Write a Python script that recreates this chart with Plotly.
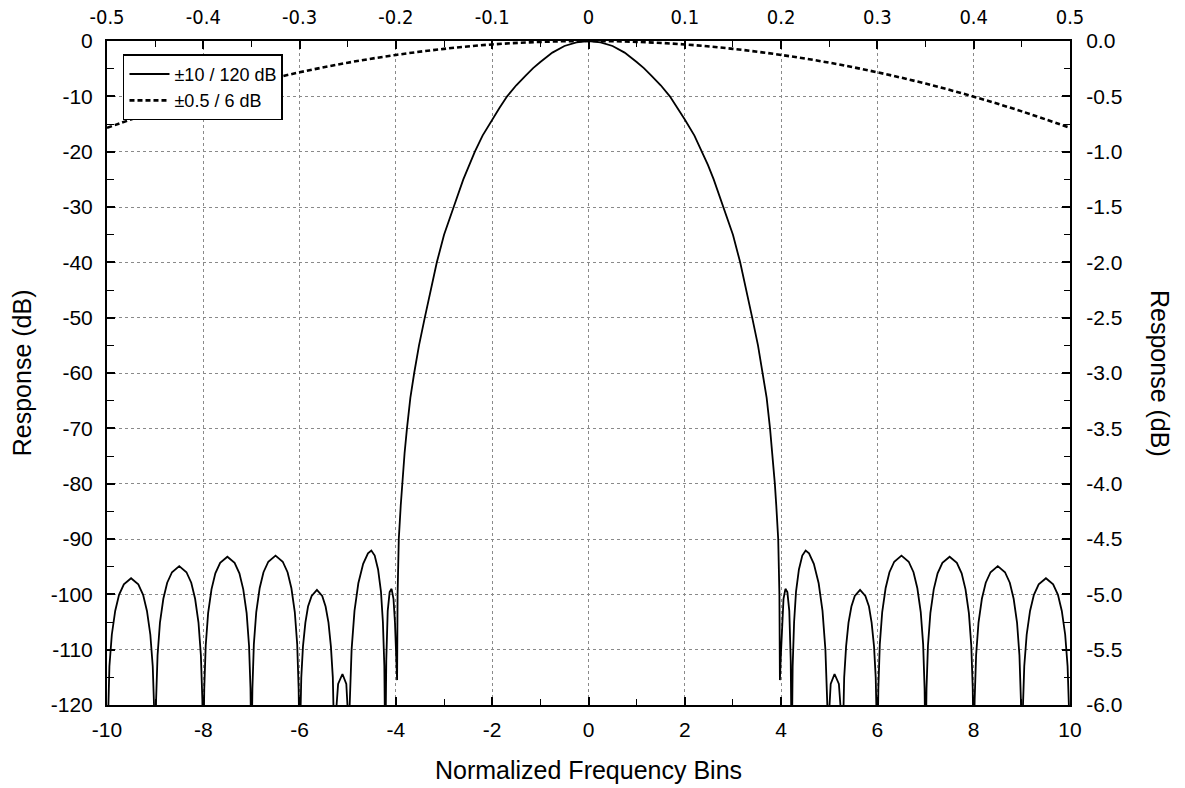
import plotly.graph_objects as go

# ---- solid curve: +/-10 bins, 120 dB span (bottom x axis, left y axis) ----
bins = [
    -10.00, -9.98, -9.95, -9.90, -9.83, -9.75, -9.65, -9.50, -9.35, -9.25, -9.17, -9.10, -9.05, -9.02,
    -9.00, -8.98, -8.95, -8.90, -8.83, -8.75, -8.65, -8.50, -8.35, -8.25, -8.17, -8.10, -8.05, -8.02,
    -8.00, -7.98, -7.95, -7.90, -7.83, -7.75, -7.65, -7.50, -7.35, -7.25, -7.17, -7.10, -7.05, -7.02,
    -7.00, -6.98, -6.95, -6.90, -6.83, -6.75, -6.65, -6.50, -6.35, -6.25, -6.17, -6.10, -6.05, -6.02,
    -6.00, -5.985, -5.965, -5.93, -5.88, -5.825, -5.75, -5.64, -5.53, -5.46, -5.40, -5.35, -5.31, -5.29,
    -5.26, -5.24, -5.20, -5.11, -5.03, -5.00,
    -4.98, -4.96, -4.92, -4.86, -4.78, -4.68, -4.58, -4.51, -4.44, -4.37, -4.31, -4.27, -4.24,
    -4.22, -4.20, -4.17, -4.13, -4.09, -4.05, -4.02, -3.99, -3.975,
    -3.965, -3.94, -3.90, -3.87, -3.82, -3.77, -3.70, -3.62, -3.52, -3.40, -3.28, -3.15, -3.00,
    -2.90, -2.80, -2.60, -2.48, -2.36, -2.20, -2.00, -1.85, -1.69, -1.50, -1.30, -1.15, -1.00,
    -0.75, -0.50, -0.25, 0.00,
    0.25, 0.50, 0.75,
    1.00, 1.15, 1.30, 1.50, 1.69, 1.85, 2.00, 2.20, 2.36, 2.48, 2.60, 2.80, 2.90,
    3.00, 3.15, 3.28, 3.40, 3.52, 3.62, 3.70, 3.77, 3.82, 3.87, 3.90, 3.94, 3.965,
    3.975, 3.99, 4.02, 4.05, 4.09, 4.13, 4.17, 4.20, 4.22,
    4.24, 4.27, 4.31, 4.37, 4.44, 4.51, 4.58, 4.68, 4.78, 4.86, 4.92, 4.96, 4.98,
    5.00, 5.03, 5.11, 5.20, 5.24, 5.26,
    5.29, 5.31, 5.35, 5.40, 5.46, 5.53, 5.64, 5.75, 5.825, 5.88, 5.93, 5.965, 5.985, 6.00,
    6.02, 6.05, 6.10, 6.17, 6.25, 6.35, 6.50, 6.65, 6.75, 6.83, 6.90, 6.95, 6.98, 7.00,
    7.02, 7.05, 7.10, 7.17, 7.25, 7.35, 7.50, 7.65, 7.75, 7.83, 7.90, 7.95, 7.98, 8.00,
    8.02, 8.05, 8.10, 8.17, 8.25, 8.35, 8.50, 8.65, 8.75, 8.83, 8.90, 8.95, 8.98, 9.00,
    9.02, 9.05, 9.10, 9.17, 9.25, 9.35, 9.50, 9.65, 9.75, 9.83, 9.90, 9.95, 9.98, 10.00,
]
resp_db = [
    -130, -121, -113, -107.3, -103, -100.1, -98.2, -97.1, -98.2, -100.1, -103, -107.3, -113, -121,
    -130, -119, -111, -105.1, -100.8, -97.9, -96.0, -94.9, -96.0, -97.9, -100.8, -105.1, -111, -119,
    -130, -117, -109.3, -103.4, -99.1, -96.2, -94.3, -93.2, -94.3, -96.2, -99.1, -103.4, -109.3, -117,
    -130, -117, -109, -103.2, -98.9, -96.0, -94.1, -93.0, -94.1, -96.0, -98.9, -103.2, -109, -117,
    -130, -123, -115, -109.4, -105.1, -102.2, -100.3, -99.2, -100.3, -102.2, -105.1, -109.4, -115, -123,
    -130, -121, -116.2, -114.4, -116.2, -121,
    -130, -120, -110, -103, -98, -94.5, -92.6, -92.1, -93, -95.5, -99.5, -105, -113,
    -130, -112, -103, -99.6, -99, -100.8, -105, -112, -115.5,
    -100, -90, -84, -80, -74.5, -70, -64.5, -60, -55, -50, -45, -40, -35,
    -32.3, -30, -25, -22.4, -20, -17.1, -14.2, -12.1, -10, -8.0, -6.2, -4.9, -3.8,
    -2.1, -0.9, -0.23, 0.0,
    -0.23, -0.9, -2.1,
    -3.8, -4.9, -6.2, -8.0, -10, -12.1, -14.2, -17.1, -20, -22.4, -25, -30, -32.3,
    -35, -40, -45, -50, -55, -60, -64.5, -70, -74.5, -80, -84, -90, -100,
    -115.5, -112, -105, -100.8, -99, -99.6, -103, -112, -130,
    -113, -105, -99.5, -95.5, -93, -92.1, -92.6, -94.5, -98, -103, -110, -120, -130,
    -121, -116.2, -114.4, -116.2, -121, -130,
    -123, -115, -109.4, -105.1, -102.2, -100.3, -99.2, -100.3, -102.2, -105.1, -109.4, -115, -123, -130,
    -117, -109, -103.2, -98.9, -96.0, -94.1, -93.0, -94.1, -96.0, -98.9, -103.2, -109, -117, -130,
    -117, -109.3, -103.4, -99.1, -96.2, -94.3, -93.2, -94.3, -96.2, -99.1, -103.4, -109.3, -117, -130,
    -119, -111, -105.1, -100.8, -97.9, -96.0, -94.9, -96.0, -97.9, -100.8, -105.1, -111, -119, -130,
    -121, -113, -107.3, -103, -100.1, -98.2, -97.1, -98.2, -100.1, -103, -107.3, -113, -121, -130,
]

# ---- dashed curve: +/-0.5 bins, 6 dB span (top x axis, right y axis) ----
zoom_bins = [-0.50, -0.45, -0.40, -0.35, -0.30, -0.25, -0.20, -0.15, -0.10, -0.05, 0.00,
             0.05, 0.10, 0.15, 0.20, 0.25, 0.30, 0.35, 0.40, 0.45, 0.50]
zoom_db = [-0.785, -0.636, -0.503, -0.385, -0.283, -0.196, -0.126, -0.071, -0.031, -0.008, 0.0,
           -0.008, -0.031, -0.071, -0.126, -0.196, -0.283, -0.385, -0.503, -0.636, -0.785]

series_names = ["±10 / 120 dB", "±0.5 / 6 dB"]

# ---- tick labels ----
bottom_ticks = [-10, -8, -6, -4, -2, 0, 2, 4, 6, 8, 10]
bottom_labels = ["-10", "-8", "-6", "-4", "-2", "0", "2", "4", "6", "8", "10"]
top_ticks = [-0.5, -0.4, -0.3, -0.2, -0.1, 0, 0.1, 0.2, 0.3, 0.4, 0.5]
top_labels = ["-0.5", "-0.4", "-0.3", "-0.2", "-0.1", "0", "0.1", "0.2", "0.3", "0.4", "0.5"]
left_ticks = [0, -10, -20, -30, -40, -50, -60, -70, -80, -90, -100, -110, -120]
left_labels = ["0", "-10", "-20", "-30", "-40", "-50", "-60", "-70", "-80", "-90", "-100", "-110", "-120"]
right_ticks = [0, -0.5, -1, -1.5, -2, -2.5, -3, -3.5, -4, -4.5, -5, -5.5, -6]
right_labels = ["0.0", "-0.5", "-1.0", "-1.5", "-2.0", "-2.5", "-3.0", "-3.5", "-4.0",
                "-4.5", "-5.0", "-5.5", "-6.0"]

FONT = "Liberation Sans, Arial, Helvetica, sans-serif"
NARROW = "Liberation Sans Narrow, Arial Narrow, DejaVu Sans Condensed, sans-serif"
GRID = "#8a8a8a"

fig = go.Figure()
fig.add_trace(go.Scatter(x=bins, y=resp_db, mode="lines", name=series_names[0],
                         line=dict(color="black", width=1.8), xaxis="x", yaxis="y"))
fig.add_trace(go.Scatter(x=zoom_bins, y=zoom_db, mode="lines", name=series_names[1],
                         line=dict(color="black", width=2.6, dash="5px,3px", shape="spline"),
                         xaxis="x2", yaxis="y2"))

common = dict(showline=True, linecolor="black", linewidth=2, ticks="inside",
              tickcolor="black", tickwidth=1.5, ticklen=8, zeroline=False, automargin=False)

fig.update_layout(
    template="none",
    width=1185, height=788,
    margin=dict(l=107, r=115, t=41, b=83, autoexpand=False),
    paper_bgcolor="white", plot_bgcolor="white",
    font=dict(family=FONT, size=21, color="black"),
    showlegend=True,
    legend=dict(x=0.0166, y=0.98, xanchor="left", yanchor="top", bgcolor="white",
                bordercolor="black", borderwidth=1.5, font=dict(family=FONT, size=18),
                itemwidth=40, tracegroupgap=0),
    xaxis=dict(range=[-10, 10], tickmode="array", tickvals=bottom_ticks, ticktext=bottom_labels,
               showgrid=True, gridcolor=GRID, griddash="dot", gridwidth=1,
               minor=dict(tickmode="linear", tick0=0, dtick=1, ticks="inside", ticklen=6,
                          tickcolor="black", tickwidth=1.2, showgrid=False),
               ticklabelstandoff=5, **common),
    yaxis=dict(range=[-120, 0], tickmode="array", tickvals=left_ticks, ticktext=left_labels,
               showgrid=True, gridcolor=GRID, griddash="dot", gridwidth=1,
               minor=dict(tickmode="linear", tick0=0, dtick=5, ticks="inside", ticklen=7,
                          tickcolor="black", tickwidth=1.2, showgrid=False),
               ticklabelstandoff=8, **common),
    xaxis2=dict(range=[-0.5, 0.5], overlaying="x", side="top", anchor="y",
                tickmode="array", tickvals=top_ticks, ticktext=top_labels,
                tickfont=dict(family=NARROW, size=20),
                showgrid=False,
                minor=dict(tickmode="linear", tick0=0, dtick=0.05, ticks="inside", ticklen=6,
                           tickcolor="black", tickwidth=1.2, showgrid=False),
                ticklabelstandoff=7, **common),
    yaxis2=dict(range=[-6, 0], overlaying="y", side="right", anchor="x",
                tickmode="array", tickvals=right_ticks, ticktext=right_labels,
                showgrid=False,
                minor=dict(tickmode="linear", tick0=0, dtick=0.25, ticks="inside", ticklen=6,
                           tickcolor="black", tickwidth=1.2, showgrid=False),
                ticklabelstandoff=10, **common),
    annotations=[
        dict(text="Normalized Frequency Bins", xref="paper", yref="paper", x=0.5, y=-0.098,
             xanchor="center", yanchor="middle", showarrow=False, font=dict(family=FONT, size=25)),
        dict(text="Response (dB)", xref="paper", yref="paper", x=-0.088, y=0.5,
             xanchor="center", yanchor="middle", textangle=-90, showarrow=False,
             font=dict(family=FONT, size=25)),
        dict(text="Response (dB)", xref="paper", yref="paper", x=1.0935, y=0.5,
             xanchor="center", yanchor="middle", textangle=90, showarrow=False,
             font=dict(family=FONT, size=25)),
    ],
)

fig.write_html("out.html", config={"displayModeBar": False},
               post_script="document.body.style.margin='0px';"
               "document.body.style.overflow='hidden';")
